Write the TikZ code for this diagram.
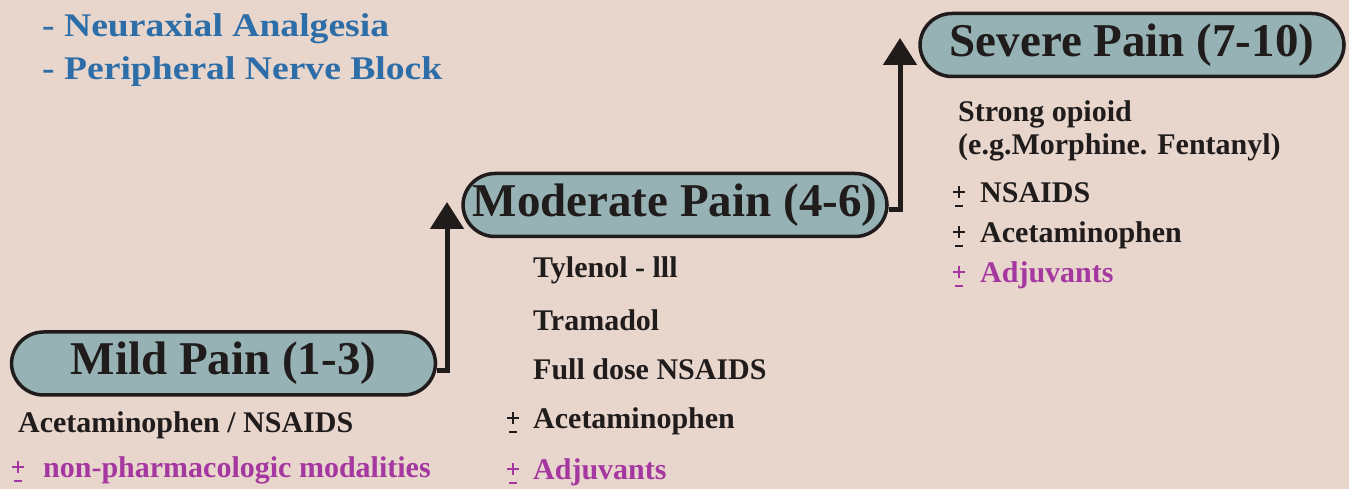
\documentclass[tikz,border=0pt]{standalone}
\usepackage{fontspec}
\usepackage{graphicx}
\setmainfont{Liberation Serif}
\usetikzlibrary{arrows.meta}
\definecolor{PaperBeige}{RGB}{232, 214, 204}
\definecolor{BoxTeal}{RGB}{150, 178, 180}
\definecolor{InkDark}{RGB}{32, 28, 28}
\definecolor{NoteBlue}{RGB}{45, 110, 168}
\definecolor{AddMagenta}{RGB}{165, 55, 160}
% plus over a short minus, as printed in the chart
\newcommand{\pmk}[1][27pt]{\makebox[#1][l]{\rlap{\hspace{5pt}\rule[5pt]{2pt}{12pt}}\rlap{\rule[10pt]{12pt}{2pt}}\hspace{2pt}\rule[-4pt]{8pt}{2pt}}}

\begin{document}
\begin{tikzpicture}[x=1pt, y=1pt,
    painbox/.style={draw=InkDark, line width=3.5pt, fill=BoxTeal, rounded corners=32pt,
        minimum width=424pt, minimum height=63pt, inner sep=0pt, text=InkDark,
        font=\fontsize{47}{56}\selectfont\bfseries},
    item/.style={anchor=base west, inner sep=0pt, text=InkDark,
        font=\fontsize{30}{36}\selectfont\bfseries},
    note/.style={anchor=base west, inner sep=0pt, text=NoteBlue,
        font=\fontsize{33}{40}\selectfont\bfseries},
    uparrow/.style={draw=InkDark, line width=5pt, -{Triangle[width=33pt, length=27pt]}}]
        \fill[PaperBeige] (0,0) rectangle (1349,489);
        \useasboundingbox (0,0) rectangle (1349,489);
        % blue notes, top left
        \node[note] (neur) at (42,452) {\scalebox{1.14}[1]{- Neuraxial Analgesia}};
        \node[note] (pnb)  at (42,409) {\scalebox{1.14}[1]{- Peripheral Nerve Block}};
        % the three steps
        \node[painbox] (mild)   at (223.5,125.5) {Mild Pain (1-3)};
        \node[painbox] (moder)  at (675,284)     {Moderate Pain (4-6)};
        \node[painbox] (severe) at (1132,444)    {Severe Pain (7-10)};
        \coordinate (tipA) at (447,287);
        \coordinate (tipB) at (900,451);
        \draw[uparrow] ([yshift=-7pt]mild.east) -| (tipA);
        \draw[uparrow] ([yshift=-5pt]moder.east) -| (tipB);
        % mild
        \node[item] (mildA) at (18,56) {Acetaminophen / NSAIDS};
        \node[item, text=AddMagenta] (mildB) at (12,11) {\pmk[31pt]non-pharmacologic modalities};
        % moderate
        \foreach \y/\txt [count=\i] in {211/Tylenol - lll, 158/Tramadol, 109/Full dose NSAIDS} {
            \node[item] (moder\i) at (533,\y) {\txt};
        }
        \node[item] (moderB) at (507,60) {\pmk[26pt]Acetaminophen};
        \node[item, text=AddMagenta] (moderC) at (507,9) {\pmk[26pt]Adjuvants};
        % severe
        \node[item] (sevA) at (958,367) {Strong opioid};
        \node[item] (sevB) at (958,334) {(e.g.Morphine. Fentanyl)};
        \node[item] (sevC) at (953,286) {\pmk NSAIDS};
        \node[item] (sevD) at (953,246) {\pmk Acetaminophen};
        \node[item, text=AddMagenta] (sevE) at (953,206) {\pmk Adjuvants};
    \end{tikzpicture}
\end{document}
